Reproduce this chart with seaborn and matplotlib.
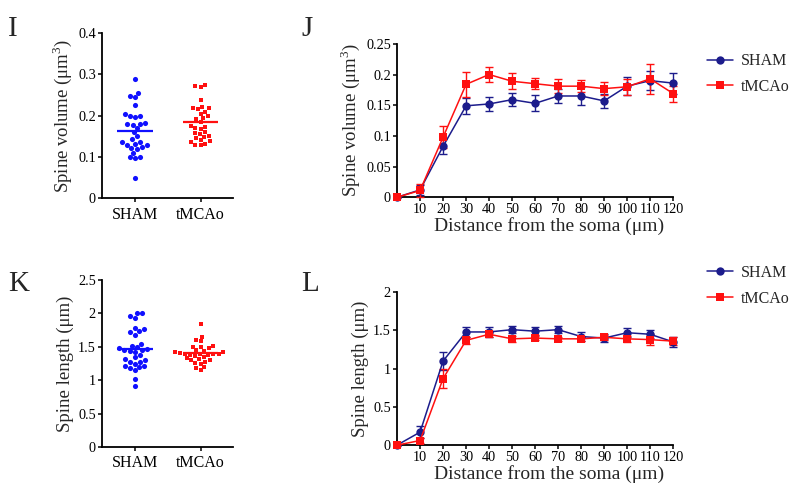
import numpy as np
import pandas as pd
import matplotlib
matplotlib.use("Agg")
import matplotlib.pyplot as plt
from matplotlib.ticker import FuncFormatter
import seaborn as sns

groups = ["SHAM", "tMCAo"]

sham_volume = [0.29, 0.255, 0.247, 0.245, 0.225, 0.205, 0.2, 0.197, 0.2, 0.182, 0.18,
               0.18, 0.178, 0.17, 0.16, 0.15, 0.143, 0.137, 0.135, 0.132, 0.13, 0.128,
               0.125, 0.122, 0.12, 0.11, 0.1, 0.1, 0.098, 0.05]
tmcao_volume = [0.275, 0.272, 0.27, 0.237, 0.222, 0.218, 0.215, 0.21, 0.218, 0.2, 0.205,
                0.195, 0.192, 0.185, 0.175, 0.172, 0.17, 0.168, 0.16, 0.158, 0.155, 0.15,
                0.148, 0.145, 0.14, 0.138, 0.135, 0.132, 0.13, 0.128]
sham_length = [2.0, 2.0, 1.96, 1.93, 1.78, 1.76, 1.73, 1.72, 1.68, 1.55, 1.52, 1.5, 1.48,
               1.47, 1.46, 1.45, 1.44, 1.43, 1.38, 1.35, 1.32, 1.3, 1.28, 1.28, 1.25, 1.22,
               1.22, 1.2, 1.18, 1.15, 1.02, 0.92]
tmcao_length = [1.84, 1.65, 1.6, 1.58, 1.52, 1.5, 1.5, 1.48, 1.45, 1.44, 1.42, 1.42, 1.41,
                1.4, 1.4, 1.4, 1.39, 1.38, 1.38, 1.37, 1.35, 1.33, 1.32, 1.3, 1.3, 1.28,
                1.26, 1.25, 1.2, 1.18, 1.15]

distance = [0, 10, 20, 30, 40, 50, 60, 70, 80, 90, 100, 110, 120]
sham_vol_mean = [0, 0.012, 0.083, 0.149, 0.152, 0.159, 0.153, 0.165, 0.165, 0.157, 0.181, 0.19, 0.186]
sham_vol_err = [0, 0.008, 0.012, 0.013, 0.012, 0.011, 0.013, 0.011, 0.014, 0.011, 0.015, 0.015, 0.017]
tmcao_vol_mean = [0, 0.011, 0.098, 0.184, 0.2, 0.189, 0.185, 0.181, 0.181, 0.177, 0.18, 0.193, 0.169]
tmcao_vol_err = [0, 0.01, 0.018, 0.02, 0.013, 0.013, 0.009, 0.011, 0.01, 0.011, 0.013, 0.024, 0.013]
sham_len_mean = [0, 0.17, 1.1, 1.48, 1.48, 1.51, 1.49, 1.51, 1.42, 1.4, 1.47, 1.45, 1.35]
sham_len_err = [0, 0.08, 0.12, 0.07, 0.06, 0.05, 0.05, 0.05, 0.06, 0.05, 0.06, 0.05, 0.07]
tmcao_len_mean = [0, 0.06, 0.87, 1.37, 1.45, 1.39, 1.4, 1.39, 1.39, 1.41, 1.39, 1.38, 1.36]
tmcao_len_err = [0, 0.03, 0.12, 0.05, 0.03, 0.04, 0.03, 0.03, 0.03, 0.03, 0.04, 0.07, 0.05]

sns.set_theme(style="ticks")
plt.rcParams["font.family"] = ["Liberation Serif", "DejaVu Serif"]
plt.rcParams["mathtext.fontset"] = "custom"
plt.rcParams["mathtext.rm"] = "Liberation Serif"

navy = "#1c1c8c"
red = "#ff1010"
fmt = FuncFormatter(lambda v, p: "%g" % round(v, 3))

fig = plt.figure(figsize=(7.91, 4.87), dpi=100)
ax_i = fig.add_axes([0.129, 0.593, 0.166, 0.339])
ax_j = fig.add_axes([0.502, 0.595, 0.349, 0.315])
ax_k = fig.add_axes([0.129, 0.082, 0.166, 0.343])
ax_l = fig.add_axes([0.502, 0.086, 0.349, 0.314])


def style_axes(ax):
    sns.despine(ax=ax)
    for s in ["left", "bottom"]:
        ax.spines[s].set_linewidth(1.3)
        ax.spines[s].set_color("black")
    ax.tick_params(length=3, width=1.1, pad=1.5, labelsize=10.3, colors="black")
    ax.yaxis.set_major_formatter(fmt)


def dot_panel(ax, sham, tmcao, ylim, yticks, ylabel):
    df_s = pd.DataFrame({"group": "SHAM", "value": sham})
    df_t = pd.DataFrame({"group": "tMCAo", "value": tmcao})
    sns.swarmplot(data=df_s, x="group", y="value", order=groups, color="#1010ff",
                  marker="o", size=3.7, linewidth=0, ax=ax)
    sns.swarmplot(data=df_t, x="group", y="value", order=groups, color=red,
                  marker="s", size=3.5, linewidth=0, ax=ax)
    ax.hlines(np.mean(sham), -0.27, 0.27, color="#1010ff", lw=1.6, zorder=5)
    ax.hlines(np.mean(tmcao), 0.73, 1.27, color=red, lw=1.6, zorder=5)
    ax.set_xlim(-0.5, 1.5)
    ax.set_ylim(*ylim)
    ax.set_yticks(yticks)
    ax.set_xlabel("")
    ax.set_ylabel(ylabel, fontsize=13.5, labelpad=3)
    style_axes(ax)
    ax.tick_params(axis="x", labelsize=11.5, pad=3)


def line_panel(ax, ms, es, mt, et, ylim, yticks, ylabel, legend_y):
    ax.errorbar(distance, ms, yerr=es, fmt="none", ecolor=navy, elinewidth=1,
                capsize=3, capthick=1, zorder=3, clip_on=False)
    ax.errorbar(distance, mt, yerr=et, fmt="none", ecolor=red, elinewidth=1,
                capsize=3, capthick=1, zorder=4, clip_on=False)
    sns.lineplot(x=distance, y=ms, color=navy, marker="o", markersize=6,
                 markeredgewidth=0, lw=1.1, label="SHAM", ax=ax, zorder=5, clip_on=False)
    sns.lineplot(x=distance, y=mt, color=red, marker="s", markersize=6.2,
                 markeredgewidth=0, lw=1.1, label="tMCAo", ax=ax, zorder=6, clip_on=False)
    ax.set_xlim(0, 120)
    ax.set_ylim(*ylim)
    ax.set_xticks(distance[1:])
    ax.set_yticks(yticks)
    ax.set_xlabel("Distance from the soma (μm)", fontsize=14, labelpad=1)
    ax.xaxis.set_label_coords(0.55, -0.13)
    ax.set_ylabel(ylabel, fontsize=13.5, labelpad=3)
    style_axes(ax)
    ax.legend(loc="upper left", bbox_to_anchor=(1.10, legend_y), frameon=False,
              fontsize=11.5, handlelength=1.6, handletextpad=0.5, labelspacing=0.6,
              borderaxespad=0)


dot_panel(ax_i, sham_volume, tmcao_volume, (0, 0.4), [0, 0.1, 0.2, 0.3, 0.4],
          "Spine volume (μm$^3$)")
dot_panel(ax_k, sham_length, tmcao_length, (0, 2.5), [0, 0.5, 1, 1.5, 2, 2.5],
          "Spine length (μm)")
line_panel(ax_j, sham_vol_mean, sham_vol_err, tmcao_vol_mean, tmcao_vol_err,
           (0, 0.25), [0, 0.05, 0.1, 0.15, 0.2, 0.25], "Spine volume (μm$^3$)", 0.98)
line_panel(ax_l, sham_len_mean, sham_len_err, tmcao_len_mean, tmcao_len_err,
           (0, 2), [0, 0.5, 1, 1.5, 2], "Spine length (μm)", 1.22)

for letter, x, y in [("I", 0.010, 0.968), ("J", 0.381, 0.968),
                     ("K", 0.010, 0.443), ("L", 0.381, 0.443)]:
    fig.text(x, y, letter, fontsize=21, ha="left", va="top")

fig.savefig("out.png", dpi=100)
